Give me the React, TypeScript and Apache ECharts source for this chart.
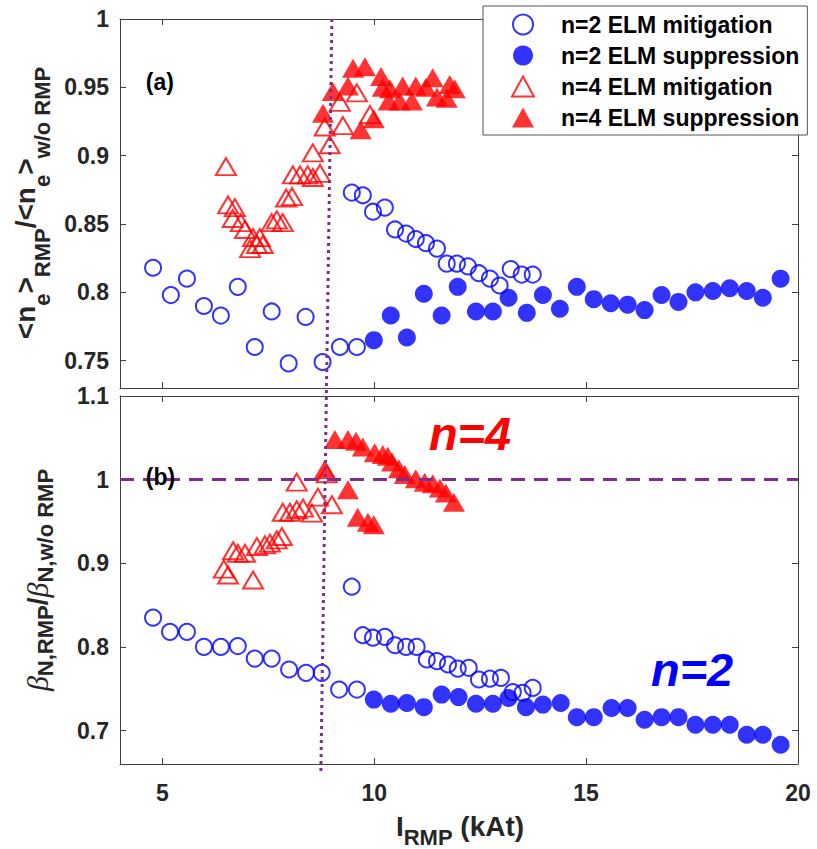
import React, { useEffect, useRef } from "react";
import * as echarts from "echarts";

// ---------- data ----------
const seriesNames = ["n=2 ELM mitigation", "n=2 ELM suppression", "n=4 ELM mitigation", "n=4 ELM suppression"];
const xTicks = [5, 10, 15, 20];
const yTicksTop = [0.75, 0.8, 0.85, 0.9, 0.95, 1];
const yTicksBottom = [0.7, 0.8, 0.9, 1, 1.1];

// panel (a): <ne>_RMP / <ne>_w/o RMP
const topN2Mitigation: [number, number][] = [
  [4.78, 0.818], [5.2, 0.798], [5.58, 0.81], [5.98, 0.79], [6.38, 0.783], [6.78, 0.804], [7.18, 0.76],
  [7.58, 0.786], [7.98, 0.748], [8.38, 0.782], [8.78, 0.749], [9.19, 0.76], [9.59, 0.76],
  [9.47, 0.873], [9.73, 0.871], [9.97, 0.859], [10.25, 0.862], [10.49, 0.846], [10.75, 0.843], [10.98, 0.839],
  [11.22, 0.836], [11.48, 0.832], [11.71, 0.821], [11.95, 0.821], [12.21, 0.819], [12.47, 0.814], [12.73, 0.81],
  [12.96, 0.805], [13.22, 0.817], [13.48, 0.813], [13.74, 0.813],
];
const topN2Suppression: [number, number][] = [
  [9.99, 0.765], [10.39, 0.783], [10.77, 0.767], [11.17, 0.799], [11.59, 0.783], [11.97, 0.804], [12.4, 0.786],
  [12.8, 0.786], [13.17, 0.796], [13.6, 0.785], [13.98, 0.798], [14.38, 0.788], [14.78, 0.804], [15.18, 0.795],
  [15.58, 0.792], [15.98, 0.791], [16.38, 0.787], [16.78, 0.798], [17.18, 0.793], [17.58, 0.8], [17.99, 0.801],
  [18.39, 0.803], [18.79, 0.801], [19.17, 0.796], [19.59, 0.81],
];
const topN4Mitigation: [number, number][] = [
  [6.5, 0.892], [6.55, 0.864], [6.71, 0.862], [6.66, 0.854], [6.85, 0.851], [6.95, 0.846], [7.14, 0.84],
  [7.3, 0.84], [7.07, 0.832], [7.37, 0.835], [7.23, 0.835], [7.58, 0.851], [7.7, 0.853], [7.84, 0.851],
  [7.92, 0.869], [8.06, 0.87], [8.08, 0.886], [8.25, 0.886], [8.43, 0.886], [8.55, 0.884], [8.72, 0.887],
  [8.55, 0.902], [8.95, 0.908], [8.83, 0.921], [9.26, 0.922], [9.19, 0.939], [9.59, 0.946], [9.9, 0.93],
];
const topN4Suppression: [number, number][] = [
  [8.79, 0.931], [9.02, 0.947], [9.38, 0.951], [9.5, 0.964], [9.78, 0.965], [9.68, 0.919], [9.99, 0.927],
  [10.16, 0.958], [10.2, 0.95], [10.37, 0.949], [10.34, 0.94], [10.67, 0.951], [10.6, 0.94], [10.98, 0.951],
  [10.89, 0.94], [11.22, 0.95], [11.38, 0.957], [11.48, 0.943], [11.78, 0.952], [11.9, 0.949], [11.71, 0.942],
];

// panel (b): beta_N,RMP / beta_N,w/o RMP
const botN2Mitigation: [number, number][] = [
  [4.78, 0.835], [5.18, 0.818], [5.58, 0.818], [5.98, 0.8], [6.38, 0.8], [6.78, 0.801], [7.18, 0.786],
  [7.58, 0.786], [7.99, 0.773], [8.39, 0.769], [8.76, 0.769], [9.17, 0.749], [9.59, 0.749],
  [9.47, 0.872], [9.73, 0.814], [9.97, 0.811], [10.25, 0.812], [10.49, 0.802], [10.75, 0.8], [11.0, 0.8],
  [11.24, 0.785], [11.48, 0.783], [11.74, 0.779], [11.97, 0.774], [12.23, 0.775], [12.47, 0.761], [12.73, 0.762],
  [12.99, 0.763], [13.27, 0.746], [13.5, 0.745], [13.74, 0.751],
];
const botN2Suppression: [number, number][] = [
  [9.99, 0.737], [10.39, 0.732], [10.77, 0.733], [11.17, 0.728], [11.59, 0.743], [11.99, 0.74], [12.4, 0.732],
  [12.8, 0.732], [13.17, 0.739], [13.58, 0.728], [13.98, 0.731], [14.4, 0.733], [14.78, 0.716], [15.18, 0.716],
  [15.6, 0.727], [15.98, 0.727], [16.38, 0.713], [16.78, 0.716], [17.18, 0.716], [17.58, 0.707], [17.99, 0.707],
  [18.39, 0.707], [18.79, 0.695], [19.17, 0.695], [19.59, 0.683],
];
const botN4Mitigation: [number, number][] = [
  [6.45, 0.893], [6.55, 0.886], [6.67, 0.915], [6.78, 0.912], [6.95, 0.912], [7.14, 0.88], [7.23, 0.92],
  [7.42, 0.922], [7.54, 0.924], [7.7, 0.928], [7.82, 0.932], [7.84, 0.961], [8.01, 0.961], [8.17, 0.964],
  [8.32, 0.966], [8.53, 0.96], [8.67, 0.979], [8.17, 0.997], [8.88, 1.007], [9.0, 0.97],
];
const botN4Suppression: [number, number][] = [
  [8.83, 1.012], [9.07, 1.048], [9.38, 1.048], [9.57, 1.046], [9.73, 1.039], [10.01, 1.032], [10.2, 1.03],
  [10.32, 1.028], [10.42, 1.021], [10.58, 1.013], [10.72, 1.006], [10.98, 1.001], [11.19, 0.997], [11.38, 0.995],
  [11.55, 0.99], [11.69, 0.984], [11.88, 0.973], [9.38, 0.988], [9.61, 0.955], [9.85, 0.949], [9.99, 0.946],
];

// reference lines & annotations (data coordinates)
const refLineBeta = 0.996;
const dottedTop: [number, number] = [9.0, 1.0]; // panel (a)
const dottedBottom: [number, number] = [8.74, 0.65]; // panel (b), extends below axis
const labelA: [number, number] = [4.61, 0.954];
const labelB: [number, number] = [4.61, 1.003];
const labelN4: [number, number] = [11.29, 1.055];
const labelN2: [number, number] = [16.53, 0.773];

const FONT = "'Liberation Sans', Arial, Helvetica, sans-serif";
const SERIF = "'Liberation Serif', 'Times New Roman', serif";
const AX = "#404040";
const TXT = "#262626";
const PURPLE = "#7E2F8E";
const BLUE = "#0000FF";
const RED = "#FF0000";

const fmt = (v: number) => String(+v.toFixed(2));

function makeX(gridIndex: number, position: "bottom" | "top", labels: boolean) {
  return {
    type: "value",
    gridIndex,
    position,
    min: 4,
    max: 20,
    axisLine: { show: true, onZero: false, lineStyle: { color: AX, width: 1 } },
    axisTick: { show: true, inside: true, length: 6, customValues: xTicks, lineStyle: { color: AX, width: 1 } },
    axisLabel: labels
      ? { show: true, customValues: xTicks, margin: 17, fontSize: 23, fontWeight: "bold", fontFamily: FONT, color: TXT, formatter: fmt }
      : { show: false },
    splitLine: { show: false },
  };
}

function makeY(gridIndex: number, position: "left" | "right", min: number, max: number, ticks: number[], labels: boolean) {
  return {
    type: "value",
    gridIndex,
    position,
    min,
    max,
    axisLine: { show: true, onZero: false, lineStyle: { color: AX, width: 1 } },
    axisTick: { show: true, inside: true, length: 6, customValues: ticks, lineStyle: { color: AX, width: 1 } },
    axisLabel: labels
      ? { show: true, customValues: ticks, margin: 11, fontSize: 23, fontWeight: "bold", fontFamily: FONT, color: TXT, formatter: fmt }
      : { show: false },
    splitLine: { show: false },
  };
}

const openCircle = { symbol: "circle", symbolSize: 16, itemStyle: { color: "rgba(255,255,255,0)", borderColor: BLUE, borderWidth: 2 } };
const fullCircle = { symbol: "circle", symbolSize: 18, itemStyle: { color: BLUE, borderColor: BLUE, borderWidth: 0 } };
const openTri = { symbol: "triangle", symbolSize: [20, 17], itemStyle: { color: "rgba(255,255,255,0)", borderColor: RED, borderWidth: 2 } };
const fullTri = { symbol: "triangle", symbolSize: [22, 19], itemStyle: { color: RED, borderColor: RED, borderWidth: 0 } };

function sc(name: string, style: any, data: [number, number][], grid: number, extra: any = {}) {
  return { type: "scatter", name, xAxisIndex: grid, yAxisIndex: grid, data, silent: true, ...style, ...extra };
}

export default function App() {
  const ref = useRef<HTMLDivElement>(null);
  useEffect(() => {
    if (!ref.current) return;
    const chart = echarts.init(ref.current, null, { renderer: "svg" });
    const option: any = {
      animation: false,
      backgroundColor: "#fff",
      grid: [
        { left: 120, top: 19, width: 678, height: 369 },
        { left: 120, top: 396, width: 678, height: 368 },
      ],
      xAxis: [makeX(0, "bottom", false), makeX(1, "bottom", true), makeX(0, "top", false), makeX(1, "top", false)],
      yAxis: [
        makeY(0, "left", 0.73, 1, yTicksTop, true),
        makeY(1, "left", 0.66, 1.1, yTicksBottom, true),
        makeY(0, "right", 0.73, 1, yTicksTop, false),
        makeY(1, "right", 0.66, 1.1, yTicksBottom, false),
      ],
      legend: {
        orient: "vertical",
        left: 483,
        top: 6,
        itemWidth: 22,
        itemHeight: 20,
        itemGap: 8,
        padding: [7, 8, 6, 28],
        backgroundColor: "#fff",
        borderColor: "#555",
        borderWidth: 1,
        borderRadius: 0,
        symbolKeepAspect: true,
        textStyle: { fontSize: 23, fontWeight: "bold", fontFamily: FONT, color: "#000", padding: [0, 0, 0, 22] },
        data: seriesNames,
        z: 20,
      },
      series: [
        sc(seriesNames[0], openCircle, topN2Mitigation, 0),
        sc(seriesNames[1], fullCircle, topN2Suppression, 0),
        sc(seriesNames[2], openTri, topN4Mitigation, 0),
        sc(seriesNames[3], fullTri, topN4Suppression, 0),
        sc(seriesNames[0], openCircle, botN2Mitigation, 1),
        sc(seriesNames[1], fullCircle, botN2Suppression, 1),
        sc(seriesNames[2], openTri, botN4Mitigation, 1),
        sc(seriesNames[3], fullTri, botN4Suppression, 1, {
          markLine: {
            silent: true,
            symbol: ["none", "none"],
            label: { show: false },
            lineStyle: { color: PURPLE, width: 3, type: [14, 9] },
            data: [{ yAxis: refLineBeta }],
          },
        }),
      ],
    };
    chart.setOption(option);

    const px = (g: number, p: [number, number]) => chart.convertToPixel({ gridIndex: g } as any, p) as number[];
    const dt = px(0, dottedTop);
    const db = px(1, dottedBottom);
    const a = px(0, labelA);
    const b = px(1, labelB);
    const n4 = px(1, labelN4);
    const n2 = px(1, labelN2);

    const textEl = (x: number, y: number, text: string, color: string, size: number, italic = false) => ({
      type: "text",
      x,
      y,
      z: 30,
      style: {
        text,
        fill: color,
        font: `${italic ? "italic " : ""}bold ${size}px ${FONT}`,
        align: "left",
        verticalAlign: "middle",
      },
    });

    chart.setOption({
      graphic: [
        {
          type: "line",
          z: 25,
          silent: true,
          shape: { x1: dt[0], y1: dt[1], x2: db[0], y2: db[1] },
          style: { stroke: PURPLE, lineWidth: 3, lineDash: [3, 4] },
        },
        textEl(a[0], a[1], "(a)", "#000", 23),
        textEl(b[0], b[1], "(b)", "#000", 23),
        textEl(n4[0], n4[1], "n=4", RED, 47, true),
        textEl(n2[0], n2[1], "n=2", BLUE, 47, true),
        {
          type: "text",
          x: 25,
          y: 203,
          rotation: Math.PI / 2,
          z: 30,
          style: {
            text: "{m|<n}{s|e}{m|>}{s|RMP}{m|/<n}{s|e}{m|>}{s|w/o RMP}",
            align: "center",
            verticalAlign: "middle",
            fill: TXT,
            rich: {
              m: { fontSize: 28, fontWeight: "bold", fontFamily: FONT, fill: TXT, lineHeight: 57, verticalAlign: "middle" },
              s: { fontSize: 22, fontWeight: "bold", fontFamily: FONT, fill: TXT, lineHeight: 22, verticalAlign: "bottom" },
            },
          },
        },
        {
          type: "text",
          x: 37,
          y: 580,
          rotation: Math.PI / 2,
          z: 30,
          style: {
            text: "{g|β}{s|N,RMP}{m|/}{g|β}{s|N,w/o RMP}",
            align: "center",
            verticalAlign: "middle",
            fill: TXT,
            rich: {
              g: { fontSize: 30, fontStyle: "italic", fontFamily: SERIF, fill: TXT, lineHeight: 38, verticalAlign: "middle" },
              m: { fontSize: 28, fontWeight: "bold", fontFamily: FONT, fill: TXT, lineHeight: 38, verticalAlign: "middle" },
              s: { fontSize: 22, fontWeight: "bold", fontFamily: FONT, fill: TXT, lineHeight: 22, verticalAlign: "bottom" },
            },
          },
        },
        {
          type: "text",
          x: 460,
          y: 826,
          z: 30,
          style: {
            text: "{m|I}{s|RMP}{m| (kAt)}",
            align: "center",
            verticalAlign: "middle",
            fill: TXT,
            rich: {
              m: { fontSize: 28, fontWeight: "bold", fontFamily: FONT, fill: TXT, lineHeight: 44, verticalAlign: "middle" },
              s: { fontSize: 22, fontWeight: "bold", fontFamily: FONT, fill: TXT, lineHeight: 22, verticalAlign: "bottom" },
            },
          },
        },
      ],
    });

    return () => chart.dispose();
  }, []);

  return <div ref={ref} style={{ position: "absolute", left: 0, top: 0, width: 817, height: 849 }} />;
}
